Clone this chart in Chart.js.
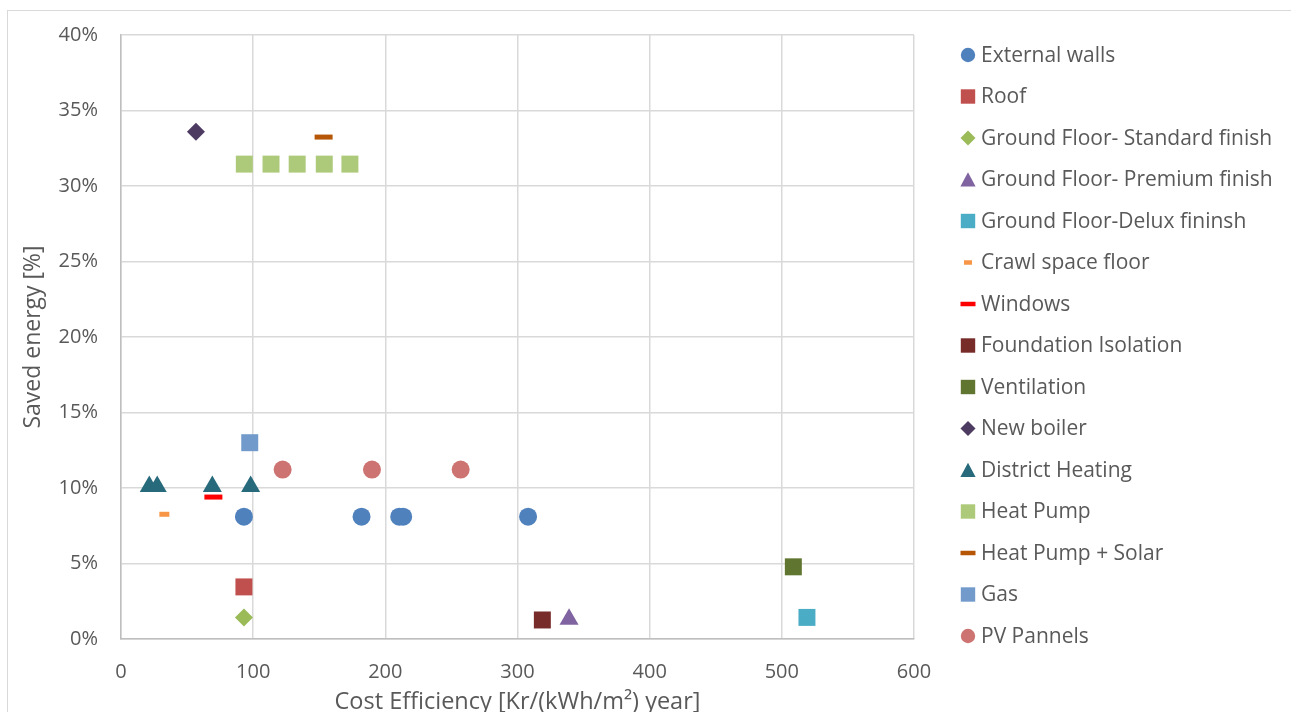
<!DOCTYPE html>
<html><head><meta charset="utf-8">
<script src="https://cdn.jsdelivr.net/npm/chart.js@4/dist/chart.umd.min.js"></script>
<style>
html,body{margin:0;padding:0;background:#fff;overflow:hidden}
#frame{position:absolute;left:7px;top:10px;width:1300px;height:720px;border:1px solid #D9D9D9;box-sizing:border-box}
#c{position:absolute;left:0;top:0}
</style></head><body>
<div id="frame"></div>
<canvas id="c" width="1291" height="712"></canvas>
<script>
// ---- data (x: cost efficiency Kr/(kWh/m2) year, y: saved energy %) ----
const externalWalls   = [[93, 8.1], [182, 8.1], [210.5, 8.1], [213.5, 8.1], [308, 8.1]];
const roof            = [[93, 3.45]];
const gfStandard      = [[93, 1.43]];
const gfPremium       = [[339, 1.3]];
const gfDelux         = [[519, 1.43]];
const crawlSpace      = [[32.8, 8.26]];
const windows         = [[69.9, 9.4]];
const foundation      = [[318.8, 1.26]];
const ventilation     = [[508.7, 4.78]];
const newBoiler       = [[56.7, 33.6]];
const districtHeating = [[21.4, 10.1], [27.4, 10.1], [69.1, 10.1], [98.1, 10.1]];
const heatPump        = [[93.3, 31.45], [113.5, 31.45], [133.3, 31.45], [153.8, 31.45], [173.2, 31.45]];
const heatPumpSolar   = [[153.3, 33.24]];
const gas             = [[97.4, 13.0]];
const pvPanels        = [[122.3, 11.22], [189.9, 11.22], [257, 11.22]];

const seriesNames = ['External walls', 'Roof', 'Ground Floor- Standard finish', 'Ground Floor- Premium finish',
  'Ground Floor-Delux fininsh', 'Crawl space floor', 'Windows', 'Foundation Isolation', 'Ventilation',
  'New boiler', 'District Heating', 'Heat Pump', 'Heat Pump + Solar', 'Gas', 'PV Pannels'];
const seriesData = [externalWalls, roof, gfStandard, gfPremium, gfDelux, crawlSpace, windows, foundation,
  ventilation, newBoiler, districtHeating, heatPump, heatPumpSolar, gas, pvPanels];
const seriesColors = ['#4F81BD', '#C0504D', '#9BBB59', '#8064A2', '#4BACC6', '#F79646', '#FF0000', '#772C2A',
  '#5F7530', '#4D3B62', '#276A7C', '#ADC97A', '#B65708', '#729ACA', '#CD7371'];
const seriesStyles = ['circle', 'rect', 'rectRot', 'triangle', 'rect', 'line', 'line', 'rect',
  'rect', 'rectRot', 'triangle', 'rect', 'line', 'rect', 'circle'];
const xTicks = [0, 100, 200, 300, 400, 500, 600];
const yTicks = [0, 5, 10, 15, 20, 25, 30, 35, 40];

// ---- styling ----
const FONT = '"Open Sans", "DejaVu Sans", sans-serif';
const TXT = '#595959';
const sizeFor = {circle: 9, rect: 12, rectRot: 9, triangle: 11};
const lineRadius = {'Crawl space floor': 5, 'Windows': 9, 'Heat Pump + Solar': 9};

const datasets = seriesNames.map((name, i) => {
  const style = seriesStyles[i];
  const isLine = style === 'line';
  return {
    label: name,
    data: seriesData[i].map(p => ({x: p[0], y: p[1]})),
    pointStyle: style,
    pointRadius: isLine ? lineRadius[name] : sizeFor[style],
    backgroundColor: seriesColors[i],
    borderColor: seriesColors[i],
    borderWidth: isLine ? 5 : 0,
    pointBorderWidth: isLine ? 5 : 0,
    showLine: false
  };
});

// legend marker drawing (Excel-like sizes)
function drawLegendMarker(ctx, style, name, color, x, y) {
  ctx.save();
  ctx.fillStyle = color;
  ctx.strokeStyle = color;
  ctx.beginPath();
  if (style === 'circle') {
    ctx.arc(x, y, 7.2, 0, Math.PI * 2); ctx.fill();
  } else if (style === 'rect') {
    ctx.fillRect(x - 7.2, y - 7.2, 14.4, 14.4);
  } else if (style === 'rectRot') {
    ctx.moveTo(x, y - 7.5); ctx.lineTo(x + 7.5, y); ctx.lineTo(x, y + 7.5); ctx.lineTo(x - 7.5, y);
    ctx.closePath(); ctx.fill();
  } else if (style === 'triangle') {
    ctx.moveTo(x, y - 7.3); ctx.lineTo(x + 7.6, y + 7); ctx.lineTo(x - 7.6, y + 7);
    ctx.closePath(); ctx.fill();
  } else if (style === 'line') {
    const half = name === 'Crawl space floor' ? 4 : 7.5;
    ctx.lineWidth = 4.5;
    ctx.moveTo(x - half, y); ctx.lineTo(x + half, y); ctx.stroke();
  }
  ctx.restore();
}

const sideLegend = {
  id: 'sideLegend',
  afterDraw(chart) {
    const {ctx, chartArea} = chart;
    const mx = chartArea.right + 54;
    const y0 = chartArea.top + 20;
    const step = 41.5;
    ctx.save();
    ctx.font = 'normal 21px ' + FONT;
    ctx.textAlign = 'left';
    ctx.textBaseline = 'middle';
    chart.data.datasets.forEach((ds, i) => {
      const y = y0 + i * step;
      drawLegendMarker(ctx, ds.pointStyle, ds.label, ds.backgroundColor, mx, y);
      ctx.fillStyle = TXT;
      ctx.fillText(ds.label, mx + 13, y + 1);
    });
    ctx.restore();
  }
};

new Chart(document.getElementById('c'), {
  type: 'scatter',
  data: {datasets},
  plugins: [sideLegend],
  options: {
    responsive: false,
    animation: false,
    events: [],
    layout: {padding: {top: 34, left: 0, bottom: 0, right: 377}},
    plugins: {
      tooltip: {enabled: false},
      legend: {display: false}
    },
    scales: {
      x: {
        type: 'linear', position: 'bottom', min: 0, max: 600,
        afterBuildTicks: s => { s.ticks = xTicks.map(v => ({value: v})); },
        ticks: {color: TXT, font: {family: FONT, size: 20}, padding: 21, maxRotation: 0},
        grid: {color: '#D9D9D9', lineWidth: 1.5, drawTicks: false},
        border: {color: '#BFBFBF', width: 1.5},
        title: {display: true, text: 'Cost Efficiency [Kr/(kWh/m²) year]', color: TXT,
          font: {family: FONT, size: 23.5}, padding: {top: 0, bottom: -4}},
        afterFit: s => { s.height = 73; }
      },
      y: {
        type: 'linear', position: 'left', min: 0, max: 40,
        afterBuildTicks: s => { s.ticks = yTicks.map(v => ({value: v})); },
        ticks: {color: TXT, font: {family: FONT, size: 20}, padding: 23, callback: v => v + '%'},
        grid: {color: '#D9D9D9', lineWidth: 1.5, drawTicks: false},
        border: {color: '#BFBFBF', width: 1.5},
        title: {display: true, text: 'Saved energy [%]', color: TXT,
          font: {family: FONT, size: 23}, padding: {top: 20, bottom: 0}},
        afterFit: s => { s.width = 121; }
      }
    }
  }
});
</script>
</body></html>
